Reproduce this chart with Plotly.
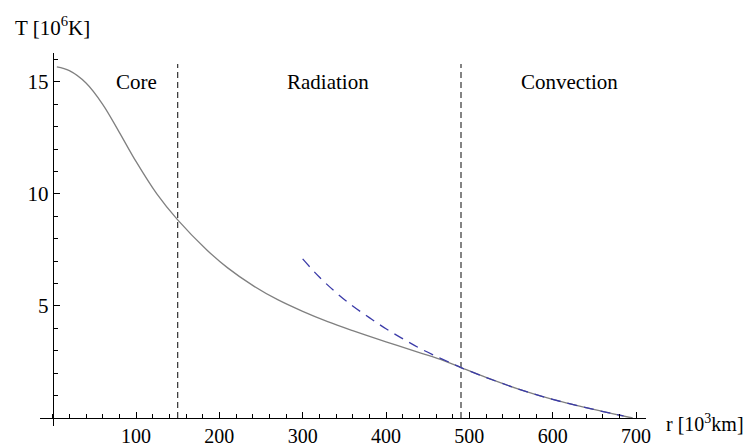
import plotly.graph_objects as go

# ---- data ----
r_model = [5, 20, 40, 60, 80, 100, 125, 150, 185, 210, 240, 270, 300, 330, 360, 400,
           440, 470, 490, 520, 560, 600, 640, 670, 696]
T_model = [15.67, 15.5, 14.95, 14.0, 12.75, 11.45, 10.0, 8.84, 7.5, 6.7, 5.92, 5.28,
           4.76, 4.3, 3.9, 3.4, 2.92, 2.55, 2.25, 1.81, 1.28, 0.83, 0.46, 0.21, 0.0]

r_adiab = [300, 320, 340, 360, 380, 400, 420, 440, 460, 480, 490, 520, 560, 600, 640, 670, 685]
T_adiab = [7.1, 6.29, 5.6, 5.0, 4.48, 3.98, 3.54, 3.12, 2.76, 2.42, 2.25, 1.81, 1.28, 0.83,
           0.46, 0.21, 0.09]

boundaries = [150, 490]
boundary_top = 15.8

region_names = ["Core", "Radiation", "Convection"]
region_x = [100, 330, 620]
region_y = 15

x_ticks = [100, 200, 300, 400, 500, 600, 700]
y_ticks = [5, 10, 15]

x_title = "r [10<sup>3</sup>km]"
y_title = "T [10<sup>6</sup>K]"

# ---- figure ----
FONT = "Liberation Serif"
xr = [-15.2, 712]
yr = [-0.357, 16.29]

fig = go.Figure()

for b in boundaries:
    fig.add_trace(go.Scatter(x=[b, b], y=[0, boundary_top], mode="lines",
                             line=dict(color="#333333", width=1.2, dash="6px,4px"),
                             hoverinfo="skip", showlegend=False))

fig.add_trace(go.Scatter(x=r_model, y=T_model, mode="lines",
                         line=dict(color="#808080", width=1.3, shape="spline", smoothing=1.0),
                         showlegend=False))
fig.add_trace(go.Scatter(x=r_adiab, y=T_adiab, mode="lines",
                         line=dict(color="#3a3aa8", width=1.3, dash="10px,7px",
                                   shape="spline", smoothing=1.0),
                         showlegend=False))

for name, x in zip(region_names, region_x):
    fig.add_annotation(x=x, y=region_y, xref="x", yref="y", text=name, showarrow=False,
                       font=dict(family=FONT, size=21, color="black"),
                       xanchor="center", yanchor="middle")

fig.add_annotation(x=(52 - 40) / 606, y=(426 - 27) / 373, xref="paper", yref="paper",
                   text=y_title, showarrow=False, xanchor="center", yanchor="middle",
                   font=dict(family=FONT, size=21, color="black"))
fig.add_annotation(x=(664 - 40) / 606, y=(426 - 423) / 373, xref="paper", yref="paper",
                   text=x_title, showarrow=False, xanchor="left", yanchor="middle",
                   font=dict(family=FONT, size=20, color="black"))

fig.update_layout(
    width=753, height=448,
    margin=dict(l=40, r=107, t=53, b=22),
    paper_bgcolor="white", plot_bgcolor="white",
    font=dict(family=FONT, size=21, color="black"),
    xaxis=dict(range=xr, anchor="free", position=(0 - yr[0]) / (yr[1] - yr[0]),
               automargin=False, ticklabelstandoff=0,
               showgrid=False, zeroline=False, showline=True, linecolor="black", linewidth=1,
               tickmode="array", tickvals=x_ticks, ticks="inside", ticklen=6,
               tickcolor="black", tickwidth=1,
               minor=dict(tickmode="linear", tick0=0, dtick=20, ticks="inside", ticklen=4,
                          tickcolor="black", tickwidth=1),
               tickfont=dict(family=FONT, size=20, color="black")),
    yaxis=dict(range=yr, anchor="free", position=(0 - xr[0]) / (xr[1] - xr[0]),
               automargin=False,
               showgrid=False, zeroline=False, showline=True, linecolor="black", linewidth=1,
               tickmode="array", tickvals=y_ticks, ticks="inside", ticklen=6,
               tickcolor="black", tickwidth=1,
               minor=dict(tickmode="linear", tick0=0, dtick=1, ticks="inside", ticklen=4,
                          tickcolor="black", tickwidth=1),
               tickfont=dict(family=FONT, size=21, color="black")),
)

fig.write_html("out.html", config={"displayModeBar": False},
               post_script="document.body.style.margin='0px';")
